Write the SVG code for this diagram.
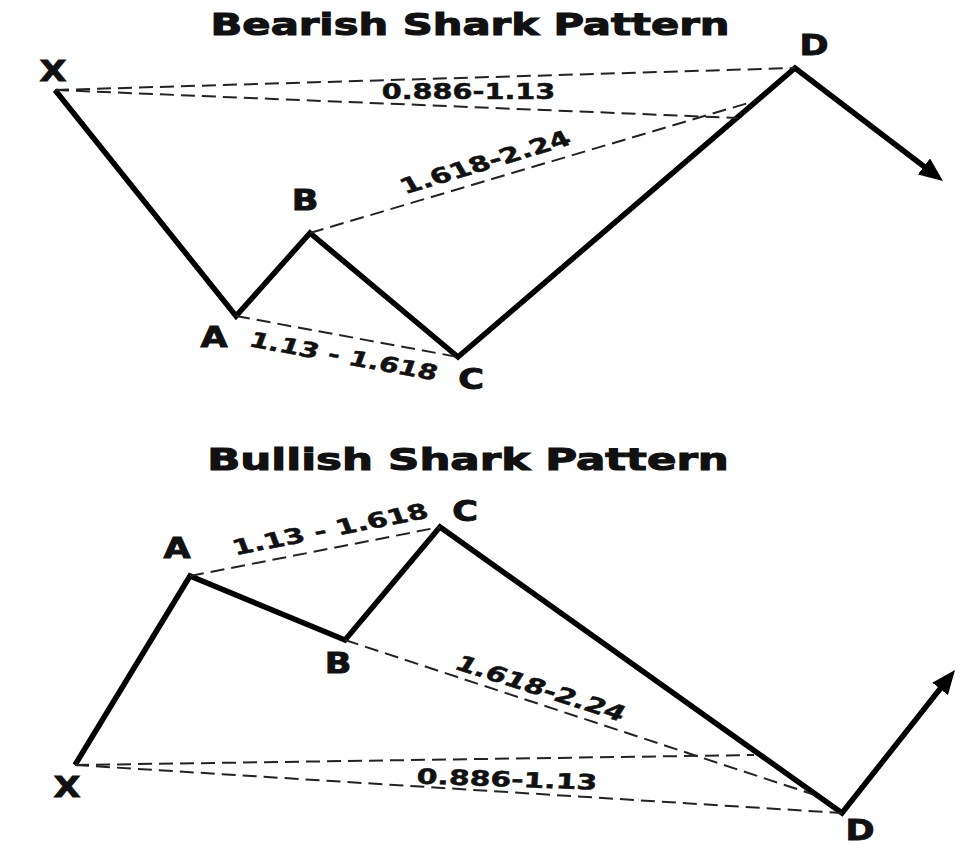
<svg xmlns="http://www.w3.org/2000/svg" width="972" height="845" viewBox="0 0 972 845">
<style>
text { font-family: "DejaVu Sans", Verdana, "Liberation Sans", sans-serif; font-weight: bold; fill: #111; stroke: #111; stroke-width: 0.7px; }
.title { font-size: 31px; stroke-width: 1.1px; }
.pt { font-size: 28px; stroke-width: 0.9px; }
.ratio { font-size: 21px; stroke-width: 0.5px; }
.leg { fill: none; stroke: #000; stroke-width: 5.5; stroke-linejoin: miter; stroke-miterlimit: 10; }
.dash { fill: none; stroke: #222; stroke-width: 2; stroke-dasharray: 14 7; }
</style>
<defs>
<marker id="head" markerUnits="userSpaceOnUse" viewBox="0 0 24 20" refX="10" refY="10" markerWidth="24" markerHeight="20" orient="auto">
<path d="M0,0 L24,10 L0,20 Z" fill="#000"/>
</marker>
</defs>
<rect width="972" height="845" fill="#fff"/>

<g id="titles">
<g transform="translate(470,35) scale(1.38,1)"><text class="title" x="0" y="0" text-anchor="middle" textLength="376" lengthAdjust="spacingAndGlyphs">Bearish Shark Pattern</text></g>
<g transform="translate(468,470) scale(1.38,1)"><text class="title" x="0" y="0" text-anchor="middle" textLength="378" lengthAdjust="spacingAndGlyphs">Bullish Shark Pattern</text></g>
</g>

<g id="connectors">
<!-- bearish -->
<polyline class="leg" points="55,90 236,316 310,233 458,357 795,68 931.9,172.5" marker-end="url(#head)"/>
<line class="dash" x1="55" y1="90" x2="795" y2="68"/>
<line class="dash" x1="55" y1="90" x2="738" y2="118"/>
<line class="dash" x1="310" y1="233" x2="755" y2="101"/>
<line class="dash" x1="236" y1="316" x2="458" y2="357"/>
<!-- bullish -->
<polyline class="leg" points="75,765 190,576 345,640 440,527 842,813 946.3,681" marker-end="url(#head)"/>
<line class="dash" x1="75" y1="765" x2="754" y2="755"/>
<line class="dash" x1="75" y1="765" x2="842" y2="813"/>
<line class="dash" x1="345" y1="640" x2="812" y2="794"/>
<line class="dash" x1="190" y1="576" x2="440" y2="527"/>
</g>

<g id="bearish-labels">
<g id="bear-X" transform="translate(53,81) scale(1.25,1)"><text class="pt" text-anchor="middle">X</text></g>
<g id="bear-A" transform="translate(214,347) scale(1.25,1)"><text class="pt" text-anchor="middle">A</text></g>
<g id="bear-B" transform="translate(305,210) scale(1.25,1)"><text class="pt" text-anchor="middle">B</text></g>
<g id="bear-C" transform="translate(471,389) scale(1.25,1)"><text class="pt" text-anchor="middle">C</text></g>
<g id="bear-D" transform="translate(814,55) scale(1.25,1)"><text class="pt" text-anchor="middle">D</text></g>
<g id="bear-XD" transform="translate(468.5,91.5) scale(1.4,1)"><text class="ratio" x="0" y="7.6" text-anchor="middle" textLength="124" lengthAdjust="spacingAndGlyphs">0.886-1.13</text></g>
<g id="bear-BD" transform="translate(485,162) scale(1.4,1) rotate(-22.8)"><text class="ratio" x="0" y="7.6" text-anchor="middle" textLength="130" lengthAdjust="spacingAndGlyphs">1.618-2.24</text></g>
<g id="bear-AC" transform="translate(344,356) scale(1.4,1) rotate(14.5)"><text class="ratio" x="0" y="7.6" text-anchor="middle" textLength="138" lengthAdjust="spacingAndGlyphs">1.13 - 1.618</text></g>
</g>

<g id="bullish-labels">
<g id="bull-X" transform="translate(67,797) scale(1.25,1)"><text class="pt" text-anchor="middle">X</text></g>
<g id="bull-A" transform="translate(177,558) scale(1.25,1)"><text class="pt" text-anchor="middle">A</text></g>
<g id="bull-B" transform="translate(338,673) scale(1.25,1)"><text class="pt" text-anchor="middle">B</text></g>
<g id="bull-C" transform="translate(465,521) scale(1.25,1)"><text class="pt" text-anchor="middle">C</text></g>
<g id="bull-D" transform="translate(860,840) scale(1.25,1)"><text class="pt" text-anchor="middle">D</text></g>
<g id="bull-AC" transform="translate(330,529) scale(1.4,1) rotate(-15.2)"><text class="ratio" x="0" y="7.6" text-anchor="middle" textLength="144" lengthAdjust="spacingAndGlyphs">1.13 - 1.618</text></g>
<g id="bull-BD" transform="translate(541,688) scale(1.4,1) rotate(24.1)"><text class="ratio" x="0" y="7.6" text-anchor="middle" textLength="131" lengthAdjust="spacingAndGlyphs">1.618-2.24</text></g>
<g id="bull-XD" transform="translate(507,779) scale(1.4,1) rotate(2.8)"><text class="ratio" x="0" y="7.6" text-anchor="middle" textLength="129" lengthAdjust="spacingAndGlyphs">0.886-1.13</text></g>
</g>
</svg>
